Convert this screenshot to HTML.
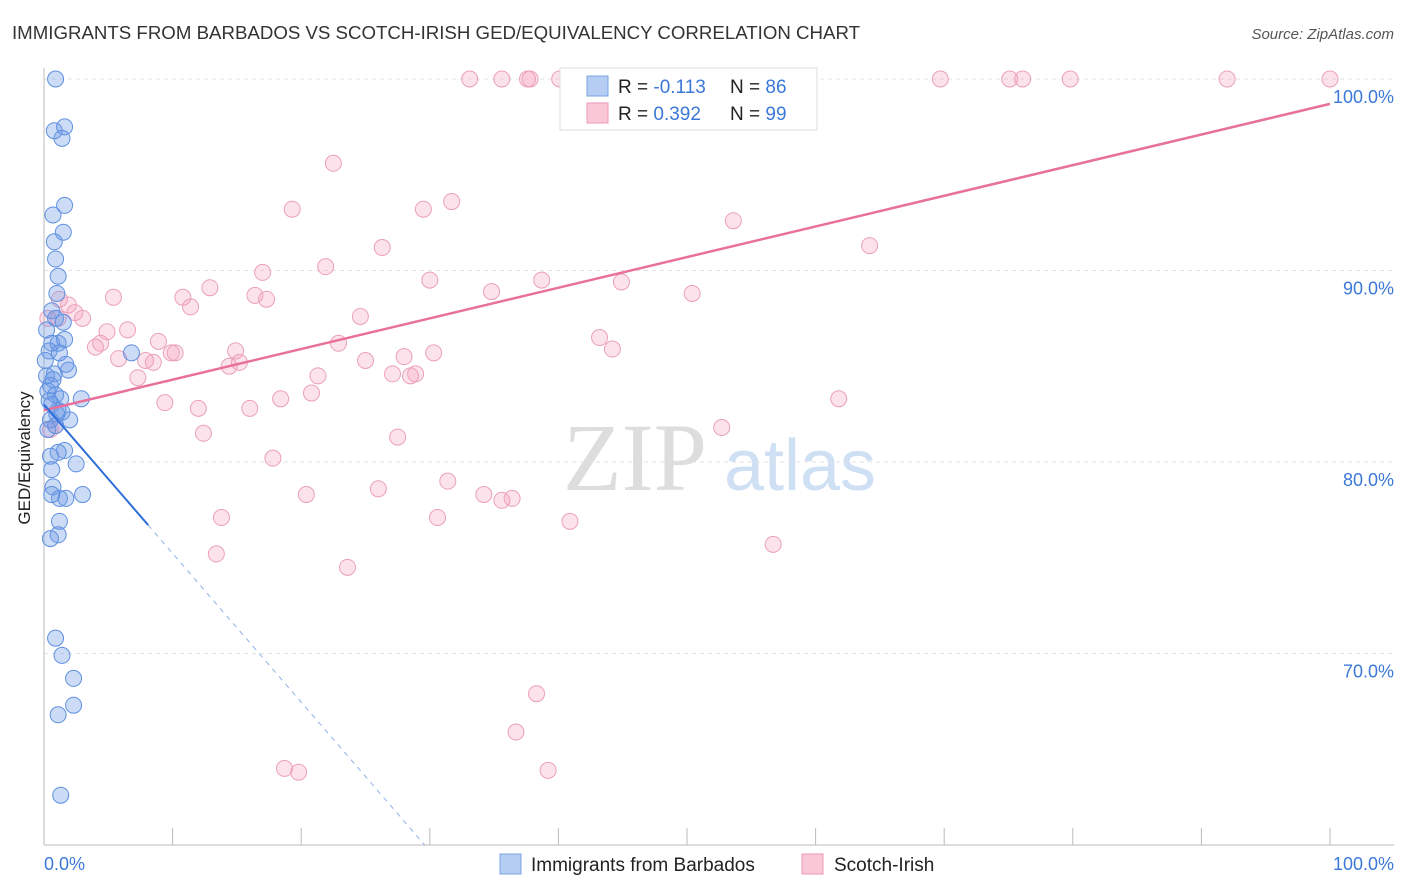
<!DOCTYPE html>
<html><head><meta charset="utf-8"><style>
body{margin:0;background:#fff;font-family:"Liberation Sans",sans-serif;}
svg{display:block}
</style></head><body>
<svg id="chart" width="1406" height="892">
<text x="12" y="39" font-size="18" fill="#333" textLength="848" lengthAdjust="spacingAndGlyphs">IMMIGRANTS FROM BARBADOS VS SCOTCH-IRISH GED/EQUIVALENCY CORRELATION CHART</text>
<text x="1394" y="39" font-size="15" fill="#555" font-style="italic" text-anchor="end">Source: ZipAtlas.com</text>
<g><text x="635" y="490" font-size="96" fill="#ddd" font-family="Liberation Serif,serif" text-anchor="middle">ZIP</text><text x="800" y="490" font-size="72" fill="#cfe0f4" text-anchor="middle">atlas</text></g>
<g id="grid"></g>
<g id="marks"></g>
<text x="30" y="458" font-size="17" fill="#222" text-anchor="middle" transform="rotate(-90 30 458)">GED/Equivalency</text>
<text x="44" y="870" font-size="18" fill="#3b78d8">0.0%</text>
<text x="1394" y="870" font-size="18" fill="#3b78d8" text-anchor="end">100.0%</text>
<g>
<rect x="560" y="68" width="257" height="62" fill="#fff" stroke="#ddd"/>
<rect x="587" y="76" width="21" height="20" fill="#b5cdf3" stroke="#7aa4e6"/>
<rect x="587" y="103" width="21" height="20" fill="#f9c7d6" stroke="#ee9ab5"/>
<text x="618" y="93" font-size="19" fill="#222">R = <tspan fill="#3b78d8">-0.113</tspan></text>
<text x="730" y="93" font-size="19" fill="#222">N = <tspan fill="#3b78d8">86</tspan></text>
<text x="618" y="120" font-size="19" fill="#222">R = <tspan fill="#3b78d8"> 0.392</tspan></text>
<text x="730" y="120" font-size="19" fill="#222">N = <tspan fill="#3b78d8">99</tspan></text>
</g>
<g>
<rect x="500" y="854" width="21" height="20" fill="#b5cdf3" stroke="#7aa4e6"/>
<text x="531" y="871" font-size="19" fill="#222">Immigrants from Barbados</text>
<rect x="802" y="854" width="21" height="20" fill="#f9c7d6" stroke="#ee9ab5"/>
<text x="834" y="871" font-size="19" fill="#222">Scotch-Irish</text>
</g>
</svg>
<script>
const yTicks=[100,90,80,70];
const yTickLabels=["100.0%","90.0%","80.0%","70.0%"];
const blueX=[0.9,0.8,1.6,1.4,0.7,1.6,1.5,0.8,0.9,1.1,1.0,0.6,0.9,1.5,0.6,1.1,1.6,0.4,1.2,1.7,0.8,1.9,0.5,0.3,0.9,1.3,2.9,0.6,1.1,1.4,2.0,0.5,0.9,0.3,1.6,1.1,0.5,2.5,0.6,0.7,3.0,1.2,1.7,0.6,1.2,1.1,0.5,0.9,1.4,2.3,2.3,1.1,1.3,6.8,0.2,0.1,0.2,0.4,0.7,1.0];
const blueY=[100,97.3,97.5,96.9,92.9,93.4,92.0,91.5,90.6,89.7,88.8,87.9,87.5,87.3,86.2,86.2,86.4,85.8,85.7,85.1,84.6,84.8,84.0,83.7,83.5,83.3,83.3,83.0,82.7,82.6,82.2,82.2,81.9,81.7,80.6,80.5,80.3,79.9,79.6,78.7,78.3,78.1,78.1,78.3,76.9,76.2,76.0,70.8,69.9,68.7,67.3,66.8,62.6,85.7,86.9,85.3,84.5,83.2,84.3,82.5];
const pinkX=[33.1,35.6,37.6,37.8,40.1,43.2,46.3,52.0,56.1,69.7,75.1,76.1,79.8,92.0,100,22.5,31.7,19.3,29.5,53.6,26.3,64.2,21.9,17.0,30.0,38.7,44.9,12.9,34.8,50.4,5.4,10.8,16.4,17.3,11.4,1.2,1.9,2.4,3.0,1.1,24.6,6.5,4.9,43.2,4.0,4.4,8.9,22.9,14.9,10.2,9.9,5.8,8.5,44.2,30.3,28.0,25.0,14.4,15.2,7.9,21.3,7.3,27.1,28.5,28.9,20.8,18.4,9.4,12.0,16.0,61.8,12.4,27.5,52.7,17.8,31.4,26.0,20.4,34.2,35.6,36.4,40.9,13.8,30.6,13.4,23.6,56.7,38.3,36.7,39.2,18.7,19.8,0.5,0.9,0.3];
const pinkY=[100,100,100,100,100,100,100,100,100,100,100,100,100,100,100,95.6,93.6,93.2,93.2,92.6,91.2,91.3,90.2,89.9,89.5,89.5,89.4,89.1,88.9,88.8,88.6,88.6,88.7,88.5,88.1,88.5,88.2,87.8,87.5,87.5,87.6,86.9,86.8,86.5,86.0,86.2,86.3,86.2,85.8,85.7,85.7,85.4,85.2,85.9,85.7,85.5,85.3,85.0,85.2,85.3,84.5,84.4,84.6,84.5,84.6,83.6,83.3,83.1,82.8,82.8,83.3,81.5,81.3,81.8,80.2,79.0,78.6,78.3,78.3,78.0,78.1,76.9,77.1,77.1,75.2,74.5,75.7,67.9,65.9,63.9,64.0,63.8,81.7,81.9,87.5];
const pinkTrend=[82.7,98.7];
const blueTrend=[83.0,-0.777];
const X0=44,X1=1330,Y100=79,PXPCT=19.15;
const sx=v=>X0+(X1-X0)*v/100;
const sy=v=>Y100+(100-v)*PXPCT;
const NS="http://www.w3.org/2000/svg";
const grid=document.getElementById('grid'),marks=document.getElementById('marks'),svg=document.getElementById('chart');
function mk(tag,attrs,parent){const e=document.createElementNS(NS,tag);for(const k in attrs)e.setAttribute(k,attrs[k]);parent.appendChild(e);return e;}
yTicks.forEach((t,i)=>{
 const l=mk('line',{x1:X0,x2:1394,y1:sy(t),y2:sy(t),stroke:'#e2e2e2','stroke-dasharray':'4,4'},grid);
 
 
 const tx=mk('text',{x:1394,y:sy(t)+24,'font-size':18,fill:'#3b78d8','text-anchor':'end'},svg);
 tx.textContent=yTickLabels[i];
 
 
});
const ax=mk('line',{x1:X0,x2:1394,y1:845,y2:845,stroke:'#bbb'},grid);


const ay=mk('line',{x1:X0,x2:X0,y1:68,y2:845,stroke:'#bbb'},grid);


for(let i=0;i<=10;i++){
 const t=mk('line',{x1:sx(i*10),x2:sx(i*10),y1:828,y2:845,stroke:'#bbb'},grid);
 
 
}
pinkX.forEach((x,i)=>{
 const c=mk('circle',{cx:sx(x),cy:sy(pinkY[i]),r:8,fill:'rgba(244,160,190,0.3)',stroke:'#eba0bb','stroke-width':1},marks);
 
 
});
blueX.forEach((x,i)=>{
 const c=mk('circle',{cx:sx(x),cy:sy(blueY[i]),r:8,fill:'rgba(110,155,230,0.35)',stroke:'#5f90e0','stroke-width':1},marks);
 
 
});
const pl=mk('line',{x1:sx(0),y1:sy(pinkTrend[0]),x2:sx(100),y2:sy(pinkTrend[1]),stroke:'#e8709a','stroke-width':2.5},marks);


const bEnd=8.1, bZero=(60-blueTrend[0])/blueTrend[1];
const bl=mk('line',{x1:sx(0),y1:sy(blueTrend[0]),x2:sx(bEnd),y2:sy(blueTrend[0]+blueTrend[1]*bEnd),stroke:'#2f6fd8','stroke-width':2},marks);


const bd=mk('line',{x1:sx(bEnd),y1:sy(blueTrend[0]+blueTrend[1]*bEnd),x2:sx(bZero),y2:sy(60),stroke:'#8fb0e6','stroke-width':1,'stroke-dasharray':'5,5'},marks);


</script>
</body></html>
